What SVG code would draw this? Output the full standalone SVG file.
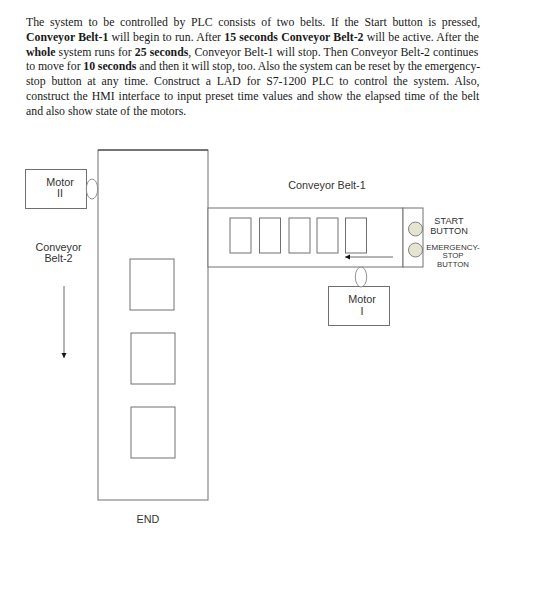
<svg xmlns="http://www.w3.org/2000/svg" width="543" height="596" viewBox="0 0 543 596">
<style>
.b{font-family:"Liberation Serif","Times New Roman",serif;font-size:11.8px;fill:#1a1a1a}
.b tspan{font-weight:bold}
.l{font-family:"Liberation Sans",Arial,sans-serif;font-size:10.8px;fill:#333;text-anchor:middle}
.m{font-size:9.2px}
.s{font-size:8px}
.t{font-size:7.8px}
.sh{fill:#fff;stroke:#707070;stroke-width:1}
.o{fill:#fff;stroke:#777;stroke-width:.8}
.btn{fill:#e4e4d0;stroke:#666;stroke-width:.8}
.ln{stroke:#444;stroke-width:.8;fill:none}
</style>
<defs><marker id="a" markerWidth="6" markerHeight="6" refX="5" refY="3" orient="auto" markerUnits="userSpaceOnUse"><path d="M0,0.5L5,3L0,5.500z" fill="#111"/></marker></defs>
<rect width="543" height="596" fill="#fff"/>
<g id="paragraph">
<text class="b" x="26" y="26" style="word-spacing:2.7px">The system to be controlled by PLC consists of two belts. If the Start button is pressed,</text>
<text class="b" x="26" y="40.800" style="word-spacing:.27px"><tspan>Conveyor Belt-1</tspan> will begin to run. After <tspan>15 seconds Conveyor Belt-2</tspan> will be active. After the</text>
<text class="b" x="26" y="55.600" style="word-spacing:.15px"><tspan>whole</tspan> system runs for <tspan>25 seconds</tspan>, Conveyor Belt-1 will stop. Then Conveyor Belt-2 continues</text>
<text class="b" x="26" y="70.400" style="word-spacing:-.24px">to move for <tspan>10 seconds</tspan> and then it will stop, too. Also the system can be reset by the emergency-</text>
<text class="b" x="26" y="85.200" style="word-spacing:2.8px">stop button at any time. Construct a LAD for S7-1200 PLC to control the system. Also,</text>
<text class="b" x="26" y="100" style="word-spacing:1.06px">construct the HMI interface to input preset time values and show the elapsed time of the belt</text>
<text class="b" x="26" y="114.800">and also show state of the motors.</text>
</g>
<g id="belt-2">
<rect class="sh" x="98" y="150" width="110" height="350"/>
<path d="M98,150H208" stroke="#333" stroke-width="1" fill="none"/>
<rect class="sh" x="130" y="259" width="44" height="51"/>
<rect class="sh" x="131" y="333" width="44" height="51"/>
<rect class="sh" x="131" y="407" width="44" height="51"/>
</g>
<g id="belt-1">
<rect class="sh" x="208" y="208" width="195" height="59"/>
<rect class="sh" x="403" y="208" width="20" height="59"/>
<rect class="sh" x="230" y="218" width="21" height="35"/>
<rect class="sh" x="259.500" y="218" width="21" height="35"/>
<rect class="sh" x="289" y="218" width="21" height="35"/>
<rect class="sh" x="317" y="218" width="21" height="35"/>
<rect class="sh" x="345.500" y="218" width="21" height="35"/>
</g>
<g id="motor-2">
<rect class="sh" x="25.500" y="169.500" width="61" height="39"/>
<ellipse class="o" cx="92" cy="189" rx="5.700" ry="10"/>
<text class="l" x="60" y="186">Motor</text><text class="l" x="60" y="197">II</text>
</g>
<g id="motor-1">
<rect class="sh" x="328.500" y="286.500" width="61" height="39"/>
<ellipse class="o" cx="361" cy="277" rx="5.700" ry="10"/>
<text class="l" x="362" y="303">Motor</text><text class="l" x="362" y="314.500">I</text>
</g>
<g id="start-button">
<circle class="btn" cx="415.500" cy="229" r="7"/>
<text class="l m" x="449" y="223.500">START</text><text class="l m" x="449" y="233.500">BUTTON</text>
</g>
<g id="stop-button">
<circle class="btn" cx="415.500" cy="250" r="7"/>
<text class="l s" x="453" y="249.500">EMERGENCY-</text><text class="l t" x="453" y="258">STOP</text><text class="l t" x="453" y="266.500">BUTTON</text>
</g>
<g id="labels">
<text class="l" x="327" y="188.500">Conveyor Belt-1</text>
<text class="l" x="58.500" y="250.500">Conveyor</text><text class="l" x="58.500" y="262">Belt-2</text>
<text class="l" x="148" y="522.500">END</text>
</g>
<g id="connectors">
<path class="ln" d="M393,257H345" marker-end="url(#a)"/>
<path class="ln" d="M64,286V358" marker-end="url(#a)"/>
</g>
</svg>
